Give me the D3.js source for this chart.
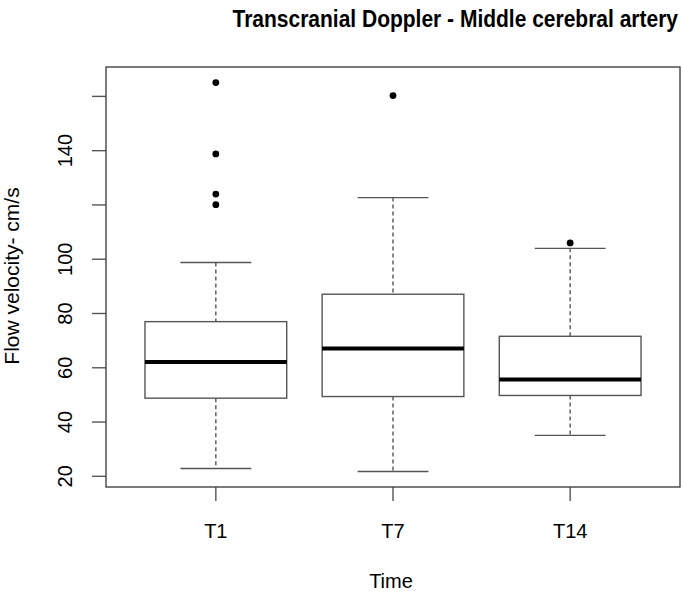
<html>
<head>
<style>
body { margin: 0; background: #fff; }
text { font-family: "Liberation Sans", Arial, sans-serif; fill: #000; }
.frame { fill: none; stroke: #444; stroke-width: 1.4px; }
.tick { stroke: #555; stroke-width: 1.4px; }
.box { fill: #fff; stroke: #555; stroke-width: 1.4px; }
.median { stroke: #000; stroke-width: 4px; }
.whisker { stroke: #555; stroke-width: 1.4px; stroke-dasharray: 4,3; }
.cap { stroke: #555; stroke-width: 1.4px; }
.outlier { fill: #000; }
</style>
</head>
<body>
<script src="https://d3js.org/d3.v7.min.js"></script>
<script>

var categories = ["T1", "T7", "T14"]
var lowerWhisker = [22.9, 21.8, 35.1]
var q1 = [48.8, 49.4, 49.8]
var median = [62.1, 67.1, 55.7]
var q3 = [77.0, 87.1, 71.6]
var upperWhisker = [98.8, 122.7, 104.0]
var outliers = [[165.1, 138.8, 124.0, 120.1], [160.3], [106.0]]

var yTicks = [20, 40, 60, 80, 100, 120, 140, 160]
var yTickLabels = [20, 40, 60, 80, 100, 140]

var width = 683, height = 593
var plotLeft = 106, plotRight = 680, plotTop = 67, plotBottom = 487

var svg = d3.select("body").append("svg")
            .attr("width", width)
            .attr("height", height)

// R style axis padding: 4% on each side
var allVals = lowerWhisker.concat(upperWhisker, d3.merge(outliers))
var lo = d3.min(allVals), hi = d3.max(allVals)
var pad = (hi - lo) * 0.04

var x = d3.scaleLinear().domain([0.5 - 0.12, 3.5 + 0.12]).range([plotLeft, plotRight])
var y = d3.scaleLinear().domain([lo - pad, hi + pad]).range([plotBottom, plotTop])

var boxHalf = 0.4, capHalf = 0.2

// y axis
svg.selectAll(".ytick").data(yTicks).enter().append("line")
   .attr("class", "tick")
   .attr("x1", plotLeft - 14).attr("x2", plotLeft)
   .attr("y1", function(d) { return y(d) }).attr("y2", function(d) { return y(d) })

svg.selectAll(".ylab").data(yTickLabels).enter().append("text")
   .attr("transform", function(d) { return "translate(72," + y(d) + ") rotate(-90)" })
   .attr("text-anchor", "middle")
   .style("font-size", "20px")
   .text(function(d) { return d })

// x axis
svg.selectAll(".xtick").data(categories).enter().append("line")
   .attr("class", "tick")
   .attr("x1", function(d, i) { return x(i + 1) }).attr("x2", function(d, i) { return x(i + 1) })
   .attr("y1", plotBottom).attr("y2", plotBottom + 14)

svg.selectAll(".xlab").data(categories).enter().append("text")
   .attr("x", function(d, i) { return x(i + 1) })
   .attr("y", 538)
   .attr("text-anchor", "middle")
   .style("font-size", "20px")
   .text(function(d) { return d })

// boxes
var g = svg.selectAll(".grp").data(categories).enter().append("g")

g.append("line").attr("class", "whisker")
 .attr("x1", function(d, i) { return x(i + 1) }).attr("x2", function(d, i) { return x(i + 1) })
 .attr("y1", function(d, i) { return y(upperWhisker[i]) }).attr("y2", function(d, i) { return y(q3[i]) })
g.append("line").attr("class", "whisker")
 .attr("x1", function(d, i) { return x(i + 1) }).attr("x2", function(d, i) { return x(i + 1) })
 .attr("y1", function(d, i) { return y(q1[i]) }).attr("y2", function(d, i) { return y(lowerWhisker[i]) })

g.append("line").attr("class", "cap")
 .attr("x1", function(d, i) { return x(i + 1 - capHalf) }).attr("x2", function(d, i) { return x(i + 1 + capHalf) })
 .attr("y1", function(d, i) { return y(upperWhisker[i]) }).attr("y2", function(d, i) { return y(upperWhisker[i]) })
g.append("line").attr("class", "cap")
 .attr("x1", function(d, i) { return x(i + 1 - capHalf) }).attr("x2", function(d, i) { return x(i + 1 + capHalf) })
 .attr("y1", function(d, i) { return y(lowerWhisker[i]) }).attr("y2", function(d, i) { return y(lowerWhisker[i]) })

g.append("rect").attr("class", "box")
 .attr("x", function(d, i) { return x(i + 1 - boxHalf) })
 .attr("width", function(d, i) { return x(i + 1 + boxHalf) - x(i + 1 - boxHalf) })
 .attr("y", function(d, i) { return y(q3[i]) })
 .attr("height", function(d, i) { return y(q1[i]) - y(q3[i]) })

g.append("line").attr("class", "median")
 .attr("x1", function(d, i) { return x(i + 1 - boxHalf) }).attr("x2", function(d, i) { return x(i + 1 + boxHalf) })
 .attr("y1", function(d, i) { return y(median[i]) }).attr("y2", function(d, i) { return y(median[i]) })

g.each(function(d, i) {
	d3.select(this).selectAll("circle").data(outliers[i]).enter().append("circle")
	  .attr("class", "outlier")
	  .attr("cx", x(i + 1))
	  .attr("cy", function(v) { return y(v) })
	  .attr("r", 3.4)
})

// frame
svg.append("rect").attr("class", "frame")
   .attr("x", plotLeft).attr("y", plotTop)
   .attr("width", plotRight - plotLeft).attr("height", plotBottom - plotTop)

// titles (R's bold title is a bit taller and narrower than Liberation)
svg.append("text")
   .attr("transform", "translate(678,27) scale(1,1.14)")
   .attr("text-anchor", "end")
   .style("font-size", "21px").style("font-weight", "bold")
   .text("Transcranial Doppler - Middle cerebral artery")

svg.append("text")
   .attr("x", (plotLeft + plotRight) / 2 - 2).attr("y", 588)
   .attr("text-anchor", "middle")
   .style("font-size", "20px")
   .text("Time")

svg.append("text")
   .attr("transform", "translate(19," + ((plotTop + plotBottom) / 2 - 1) + ") rotate(-90)")
   .attr("text-anchor", "middle")
   .style("font-size", "21px")
   .text("Flow velocity- cm/s")

</script>
</body>
</html>
